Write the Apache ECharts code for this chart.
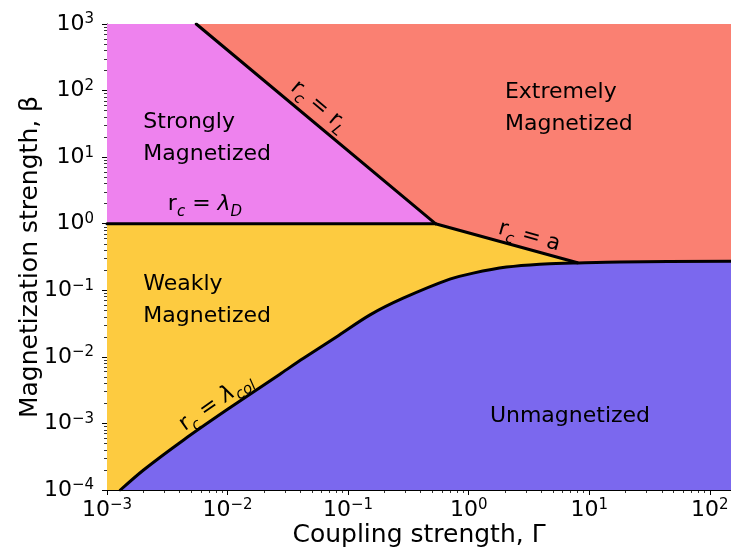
<!DOCTYPE html>
<html lang="en">
<head>
<meta charset="UTF-8">
<title>Magnetization regimes</title>
<script src="https://cdn.jsdelivr.net/npm/echarts@6/dist/echarts.min.js"></script>
<style>html,body{margin:0;background:#fff}</style>
</head>
<body>
<div id="main" style="width:731px;height:552px"></div>
<script>
// axis ranges and tick labels
var gammaRange = [1e-3, 150];
var betaRange = [1e-4, 1e3];
var gammaTicks = [1e-3, 1e-2, 1e-1, 1, 10, 100];
var betaTicks = [1e-4, 1e-3, 1e-2, 1e-1, 1, 10, 100, 1000];

// boundaries
var debyeGamma = [1e-3, 0.53];
var debyeBeta = [1, 1];
var larmorGamma = [5.5e-3, 0.53];
var larmorBeta = [1000, 1];
var aGamma = [0.53, 8.0];
var aBeta = [1, 0.259];
var colGamma = [1.29e-3, 2.01e-3, 4.32e-3, 9.87e-3, 0.0272, 0.0426, 0.0805, 0.152, 0.286, 0.698, 1.09, 2.06, 3.89, 7.35, 17.9, 150];
var colBeta = [1e-4, 2.0e-4, 5.65e-4, 1.6e-3, 5.5e-3, 9.5e-3, 0.0201, 0.0427, 0.076, 0.147, 0.181, 0.223, 0.247, 0.256, 0.267, 0.272];

var FONT = 'DejaVu Sans';

function pairs(xs, ys) {
    return xs.map(function (x, i) { return [x, ys[i]]; });
}

// minor log ticks 2..9 per decade
function minorTicks(range) {
    var out = [];
    for (var d = Math.floor(Math.log10(range[0])); d <= Math.ceil(Math.log10(range[1])); d++) {
        for (var k = 2; k <= 9; k++) {
            var v = k * Math.pow(10, d);
            if (v > range[0] && v < range[1]) out.push(v);
        }
    }
    return out;
}

function powLabel(v) {
    var e = Math.round(Math.log10(v));
    return '{b|10}{s|' + (e < 0 ? '\u2212' + (-e) : e) + '}';
}

var tickRich = {
    b: {fontSize: 22, fontFamily: FONT, color: '#000', lineHeight: 24, padding: [1, 0, 0, 0], verticalAlign: 'top'},
    s: {fontSize: 15, fontFamily: FONT, color: '#000', lineHeight: 15, verticalAlign: 'top'}
};

var gMin = gammaRange[0], gMax = gammaRange[1], bMin = betaRange[0], bMax = betaRange[1];
var aEnd = aGamma[aGamma.length - 1];

// filled regions, drawn in order; the unmagnetized one is the area under the col line
var regions = [
    {color: '#FA8072', pts: [[gMin, bMin], [gMax, bMin], [gMax, bMax], [gMin, bMax]]},
    {color: '#FDCB40', pts: [[gMin, bMin], [gMin, 1]].concat(pairs(aGamma, aBeta)).concat([[aEnd, bMin]])},
    {color: '#EE82EE', pts: [[gMin, 1], [gMin, bMax]].concat(pairs(larmorGamma, larmorBeta))}
];

var mathRich = {
    r: {fontSize: 22, fontFamily: FONT, color: '#000', lineHeight: 26, verticalAlign: 'top'},
    i: {fontSize: 22, fontFamily: FONT, fontStyle: 'italic', color: '#000', lineHeight: 26, verticalAlign: 'top'},
    sub: {fontSize: 15, fontFamily: FONT, fontStyle: 'italic', color: '#000', lineHeight: 15, padding: [11, 0, 0, 0], verticalAlign: 'top'}
};

// text annotations: [text, gamma, beta, rotate, align]
var notes = [
    ['Strongly\nMagnetized', 2.0e-3, 19, 0, 'left'],
    ['Extremely\nMagnetized', 2.0, 55, 0, 'left'],
    ['Weakly\nMagnetized', 2.0e-3, 0.072, 0, 'left'],
    ['Unmagnetized', 1.5, 1.3e-3, 0, 'left'],
    ['{r|r}{sub|c}{r| = }{i|\u03bb}{sub|D}', 6.5e-3, 1.8, 0, 'center'],
    ['{r|r}{sub|c}{r| = r}{sub|L}', 0.056, 55, -40, 'center'],
    ['{r|r}{sub|c}{r| = a}', 3.15, 0.6, -15.5, 'center'],
    ['{r|r}{sub|c}{r| = }{i|\u03bb}{sub|col}', 8.2e-3, 1.95e-3, 35, 'center']
];

function lineSeries(data, extra) {
    var s = {
        type: 'line', data: data, symbol: 'none', silent: true, z: 5,
        lineStyle: {color: '#000', width: 3, cap: 'round', join: 'round'}
    };
    return Object.assign(s, extra || {});
}

var nameStyle = {fontSize: 25, fontFamily: FONT, color: '#000'};

var chart = echarts.init(document.getElementById('main'));
var option = {
    animation: false,
    grid: {left: 107, right: 0, top: 24, bottom: 62, containLabel: false, outerBoundsMode: 'none'},
    xAxis: [{
        type: 'log', min: gMin, max: gMax, position: 'bottom',
        name: 'Coupling strength, \u0393', nameLocation: 'middle', nameGap: 33, nameMoveOverlap: false,
        nameTextStyle: nameStyle,
        axisLine: {lineStyle: {color: '#000', width: 1}},
        axisTick: {length: 5, customValues: gammaTicks, lineStyle: {color: '#000'}},
        axisLabel: {margin: 8, customValues: gammaTicks, formatter: powLabel, rich: tickRich},
        splitLine: {show: false}
    }, {
        type: 'log', min: gMin, max: gMax, position: 'bottom',
        axisLine: {show: false},
        axisTick: {length: 3, customValues: minorTicks(gammaRange), lineStyle: {color: '#000', width: 0.8}},
        axisLabel: {show: false}, splitLine: {show: false}
    }, {
        type: 'log', min: gMin, max: gMax, position: 'top',
        axisLine: {lineStyle: {color: '#000', width: 1}},
        axisTick: {show: false}, axisLabel: {show: false}, splitLine: {show: false}
    }],
    yAxis: [{
        type: 'log', min: bMin, max: bMax, position: 'left',
        name: 'Magnetization strength, \u03b2', nameLocation: 'middle', nameGap: 64, nameMoveOverlap: false,
        nameTextStyle: nameStyle,
        axisLine: {lineStyle: {color: '#000', width: 1}},
        axisTick: {length: 5, customValues: betaTicks, lineStyle: {color: '#000'}},
        axisLabel: {margin: 13, customValues: betaTicks, formatter: powLabel, rich: tickRich},
        splitLine: {show: false}
    }, {
        type: 'log', min: bMin, max: bMax, position: 'left',
        axisLine: {show: false},
        axisTick: {length: 3, customValues: minorTicks(betaRange), lineStyle: {color: '#000', width: 0.8}},
        axisLabel: {show: false}, splitLine: {show: false}
    }],
    series: [{
        type: 'custom', silent: true, z: 1,
        data: regions.map(function (r, i) { return [1, 1, i]; }),
        renderItem: function (params, api) {
            var r = regions[api.value(2)];
            return {
                type: 'polygon',
                shape: {points: r.pts.map(function (p) { return api.coord(p); })},
                style: {fill: r.color}
            };
        }
    },
        lineSeries(pairs(colGamma, colBeta), {
            smooth: 0.3,
            areaStyle: {color: '#7B68EE', opacity: 1, origin: 'start'}
        }),
        lineSeries(pairs(debyeGamma, debyeBeta)),
        lineSeries(pairs(larmorGamma, larmorBeta)),
        lineSeries(pairs(aGamma, aBeta)),
    {
        type: 'scatter', symbolSize: 0, silent: true, z: 10,
        itemStyle: {opacity: 1},
        data: notes.map(function (n) {
            return {
                value: [n[1], n[2]],
                label: {
                    show: true, position: [0, 0], formatter: n[0], rotate: n[3],
                    align: n[4], verticalAlign: 'middle', opacity: 1,
                    fontSize: 22, fontFamily: FONT, color: '#000', lineHeight: 32,
                    rich: mathRich
                }
            };
        })
    }]
};
chart.setOption(option);
</script>
</body>
</html>
